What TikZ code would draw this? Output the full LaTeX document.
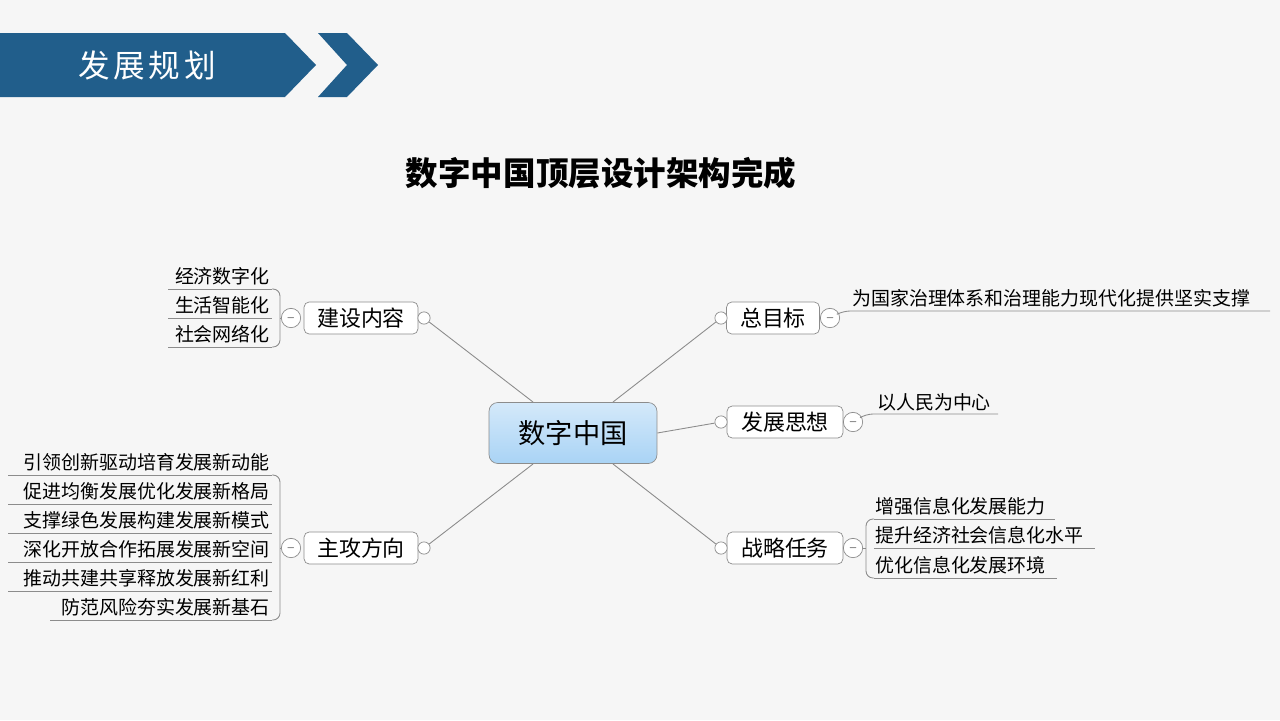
\documentclass[tikz,border=0pt]{standalone}
\usepackage{fontspec}
\setmainfont{Noto Sans CJK SC}
\usetikzlibrary{calc,positioning,shapes}
\definecolor{bandblue}{HTML}{215E8B}
\definecolor{nodeblue}{HTML}{A9D3F5}
\definecolor{linegray}{HTML}{8C8C8C}
\begin{document}
\begin{tikzpicture}[x=0.02cm,y=-0.02cm,
  branch/.style={draw=linegray,fill=white,rounded corners=3pt,minimum height=0.64cm,inner xsep=4pt,font=\fontsize{12.5}{13}\selectfont},
  leaf/.style={font=\fontsize{10.8}{11}\selectfont,inner sep=1pt},
  knob/.style={draw=linegray,fill=white,circle,inner sep=0pt,minimum size=7pt},
  minus/.style={draw=linegray,fill=white,circle,inner sep=0pt,minimum size=11pt,font=\tiny,text depth=0pt},
  ln/.style={draw=linegray,line width=0.5pt}]
  \useasboundingbox[fill={rgb,255:red,246;green,246;blue,246}] (0,0) rectangle (1280,720);
  \fill[gray!7] (8,213) rectangle (1272,688);
  % header
  \fill[bandblue] (0,33) -- (285,33) -- (316,65) -- (285,97) -- (0,97) -- cycle;
  \fill[bandblue] (318,33) -- (347,33) -- (378,65) -- (347,97) -- (318,97) -- (347,65) -- cycle;
  \node[text=white,font=\fontsize{18}{20}\selectfont\addfontfeature{LetterSpace=12}] (head) at (147,65) {发展规划};
  \node[font=\fontsize{18.5}{20}\selectfont\bfseries] (title) at (601,173) {数字中国顶层设计架构完成};
  % center
  \node[draw=linegray,rounded corners=5pt,top color=nodeblue!50,bottom color=nodeblue,minimum width=3.36cm,minimum height=1.22cm,font=\fontsize{15.5}{16}\selectfont] (core) at (573,433) {数字中国};
  % branches
  \node[branch,minimum width=2.28cm] (build) at (361,318) {建设内容};
  \node[branch,minimum width=2.28cm] (attack) at (361,548) {主攻方向};
  \node[branch,minimum width=1.86cm] (goal) at (773,318) {总目标};
  \node[branch,minimum width=2.32cm] (idea) at (785,422) {发展思想};
  \node[branch,minimum width=2.32cm] (task) at (785,548) {战略任务};
  \node[knob] (kb) at (424,318) {};
  \node[knob] (ka) at (424,548) {};
  \node[knob] (kg) at (721,318) {};
  \node[knob] (ki) at (721,422) {};
  \node[knob] (kt) at (721,548) {};
  \draw[ln] (kb) -- (533,402);
  \draw[ln] (ka) -- (533,464);
  \draw[ln] (kg) -- (613,402);
  \draw[ln] (ki) -- (core.east);
  \draw[ln] (kt) -- (613,464);
  \node[minus] (mb) at (291,318) {$-$};
  \node[minus] (ma) at (291,548) {$-$};
  \node[minus] (mg) at (830,318) {$-$};
  \node[minus] (mi) at (853,422) {$-$};
  \node[minus] (mt) at (853,548) {$-$};
  % left leaves: 建设内容
  \foreach \t/\y/\x in {经济数字化/276/168,生活智能化/305/168,社会网络化/334/168}
    {\node[leaf,anchor=east] at (272,\y) {\t};
     \draw[ln] (\x,\y+13) -- (272,\y+13);}
  \draw[ln,rounded corners=4pt] (272,289) -- (280,289) -- (280,347) -- (272,347);
  \draw[ln] (mb) -- (280,318);
  % left leaves: 主攻方向
  \foreach \t/\y/\x in {引领创新驱动培育发展新动能/462/8,促进均衡发展优化发展新格局/491/8,支撑绿色发展构建发展新模式/520/8,深化开放合作拓展发展新空间/549/8,推动共建共享释放发展新红利/578/8,防范风险夯实发展新基石/607/50}
    {\node[leaf,anchor=east] at (272,\y) {\t};
     \draw[ln] (\x,\y+13) -- (272,\y+13);}
  \draw[ln,rounded corners=4pt] (272,475) -- (280,475) -- (280,620) -- (272,620);
  \draw[ln] (ma) -- (280,548);
  % right leaves
  \node[leaf,anchor=west] (g1) at (850,298) {为国家治理体系和治理能力现代化提供坚实支撑};
  \draw[ln,rounded corners=4pt] (mg) -- (843,311) -- (1270,311);
  \node[leaf,anchor=west] (i1) at (875,402) {以人民为中心};
  \draw[ln,rounded corners=4pt] (mi) -- (866,414) -- (998,414);
  \foreach \t/\y/\x in {增强信息化发展能力/506/1055,提升经济社会信息化水平/535/1095,优化信息化发展环境/565/1057}
    {\node[leaf,anchor=west] at (873,\y) {\t};
     \draw[ln] (874,\y+13) -- (\x,\y+13);}
  \draw[ln,rounded corners=4pt] (874,519) -- (866,519) -- (866,578) -- (874,578);
  \draw[ln] (mt) -- (866,548);
\end{tikzpicture}
\end{document}
